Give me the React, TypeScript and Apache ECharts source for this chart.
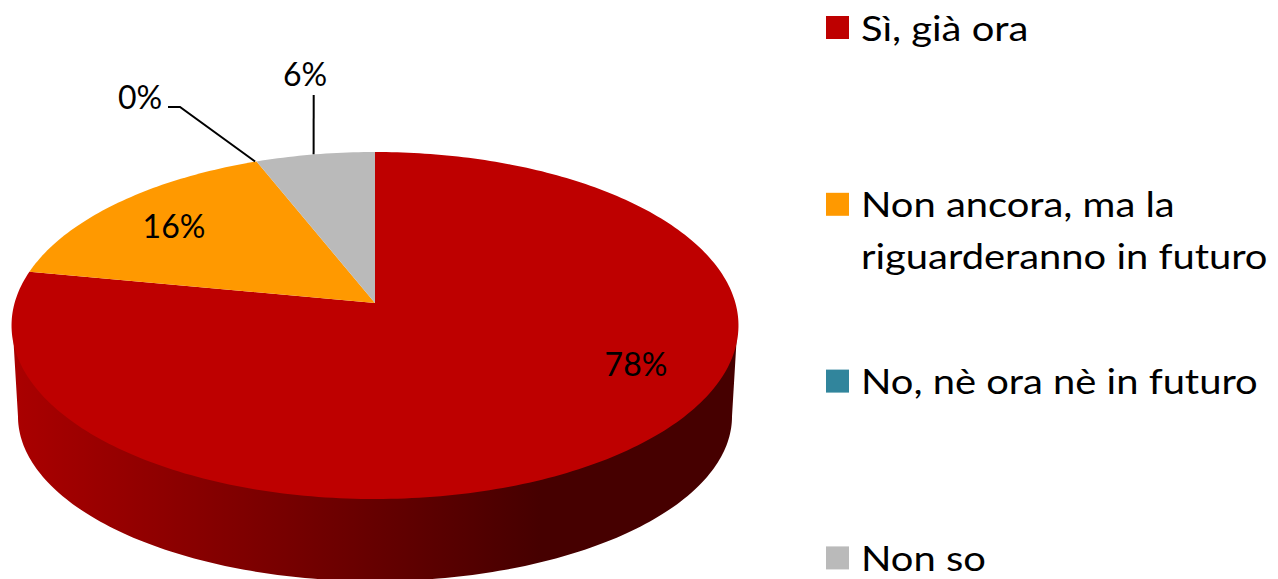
import React, { useEffect, useRef } from "react";
import * as echarts from "echarts";

const categories = ["Sì, già ora", "Non ancora, ma la\nriguarderanno in futuro", "No, nè ora nè in futuro", "Non so"];
const values = [78, 16, 0, 6];
const sliceColors = ["#BE0000", "#FF9900", "#31859C", "#BABABA"];

// Projection of the tilted disc (top face and bottom face), perspective k
const FONT = "Lato";
const K = 0.1297;
const TOP = { cx: 375, cy: 303, rx: 360.4, ry: 170.6 };
const TOP_INSET = { cx: 375, cy: 303, rx: 359.4, ry: 169.6 };
const BOTTOM = { cx: 375, cy: 395, rx: 354, ry: 162 };
const DEPTH_LEFT = (Math.acos(-K) * 180) / Math.PI; // tangent angle on the right side
const DEPTH_RIGHT = 360 - DEPTH_LEFT;
const LEADER_DX = -1.5;

// Label layout per slice: label centre; leader polyline ends at the slice's mid-angle on the rim
const labelLayout: { x: number; y: number; leader?: number[][] }[] = [
  { x: 636, y: 363 },
  { x: 174, y: 225 },
  { x: 140, y: 96, leader: [[168, 107], [180, 107]] },
  { x: 305, y: 73, leader: [[313.7, 95]] },
];

function project(face: typeof TOP, deg: number): number[] {
  const t = (deg * Math.PI) / 180;
  const u = Math.sin(t);
  const v = Math.cos(t);
  const w = 1 + K * v;
  return [face.cx + (face.rx * u) / w, face.cy - (face.ry * v) / w];
}

function arc(face: typeof TOP, from: number, to: number): number[][] {
  const pts: number[][] = [];
  const n = Math.max(1, Math.ceil(Math.abs(to - from)));
  for (let i = 0; i <= n; i++) pts.push(project(face, from + ((to - from) * i) / n));
  return pts;
}

function shade(hex: string, f: number): string {
  const n = parseInt(hex.slice(1), 16);
  const c = [(n >> 16) & 255, (n >> 8) & 255, n & 255].map((x) => Math.round(x * f));
  return `rgb(${c[0]},${c[1]},${c[2]})`;
}

export default function App() {
  const ref = useRef<HTMLDivElement>(null);

  useEffect(() => {
    const chart = echarts.init(ref.current!, undefined, { renderer: "svg" });
    const total = values.reduce((a, b) => a + b, 0);
    const textStyle = { fontFamily: FONT, fontSize: 32, fill: "#000" };

    const renderItem = (params: any, api: any) => {
      const i = params.dataIndex;
      const value = api.value(0);
      const start = (values.slice(0, i).reduce((a, b) => a + b, 0) / total) * 360;
      const end = start + (value / total) * 360;
      const mid = (start + end) / 2;
      const color = sliceColors[i];
      const children: any[] = [];

      const sideFrom = Math.max(start, DEPTH_LEFT);
      const sideTo = Math.min(end, DEPTH_RIGHT);
      if (sideTo > sideFrom) {
        children.push({
          type: "polygon",
          shape: { points: [...arc(TOP_INSET, sideFrom, sideTo), ...arc(BOTTOM, sideTo, sideFrom)] },
          style: {
            fill: new echarts.graphic.LinearGradient(
              18, 0, 540, 0,
              [
                { offset: 0, color: shade(color, 0.89) },
                { offset: 0.45, color: shade(color, 0.66) },
                { offset: 1, color: shade(color, 0.37) },
              ],
              true
            ),
          },
        });
      }
      if (value > 0) {
        children.push({
          type: "polygon",
          shape: { points: [[TOP.cx, TOP.cy], ...arc(TOP, start, end)] },
          style: { fill: color },
        });
      }
      const layout = labelLayout[i];
      if (layout.leader) {
        const anchor = project(TOP, mid);
        children.push({
          type: "polyline",
          shape: { points: [...layout.leader, [anchor[0] + LEADER_DX, anchor[1]]] },
          style: { stroke: "#000", lineWidth: 2, fill: "none" },
        });
      }
      children.push({
        type: "text",
        z2: 10,
        style: { ...textStyle, text: `${value}%`, x: layout.x, y: layout.y, align: "center", verticalAlign: "middle" },
      });
      return { type: "group", children };
    };

    const legendGraphics = categories.flatMap((name, i) => {
      const rowTop = 16 + i * 176.8;
      return [
        { type: "rect", left: 826, top: rowTop, shape: { width: 23, height: 23 }, style: { fill: sliceColors[i] } },
        {
          type: "text",
          x: 861,
          y: rowTop - 15,
          scaleX: 1.14,
          style: {
            text: name,
            fontFamily: FONT,
            fontSize: 35,
            lineHeight: 52,
            fill: "#000",
            verticalAlign: "top",
          },
        },
      ];
    });

    chart.setOption({
      animation: false,
      backgroundColor: "#fff",
      graphic: legendGraphics,
      series: [
        {
          type: "custom",
          coordinateSystem: "none",
          renderItem,
          clip: false,
          silent: true,
          data: values.map((v, i) => ({ name: categories[i], value: [v] })),
        },
      ],
    });
    return () => chart.dispose();
  }, []);

  return <div ref={ref} style={{ position: "fixed", left: 0, top: 0, width: 1278, height: 579 }} />;
}
